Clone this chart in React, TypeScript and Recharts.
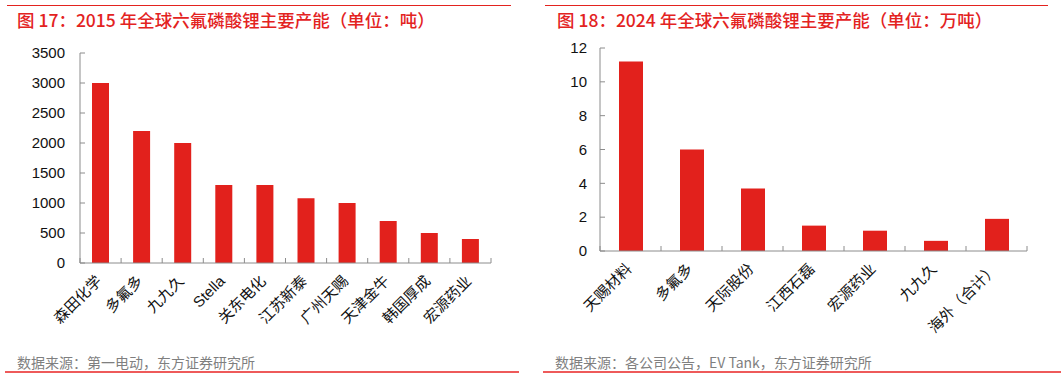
import React from 'react';
import { BarChart, Bar, XAxis, YAxis } from 'recharts';

const RED = '#e2211c';
const AXIS_GREY = '#8c8c8c';
const CJK = '"Liberation Sans", "Noto Sans CJK SC", sans-serif';

// 2015 global LiPF6 capacity (tons)
const names2015 = ['森田化学', '多氟多', '九九久', 'Stella', '关东电化', '江苏新泰', '广州天赐', '天津金牛', '韩国厚成', '宏源药业'];
const values2015 = [3000, 2200, 2000, 1300, 1300, 1080, 1000, 700, 500, 400];
const ticks2015 = [0, 500, 1000, 1500, 2000, 2500, 3000, 3500];

// 2024 global LiPF6 capacity (10k tons)
const names2024 = ['天赐材料', '多氟多', '天际股份', '江西石磊', '宏源药业', '九九久', '海外（合计）'];
const values2024 = [11.2, 6, 3.7, 1.5, 1.2, 0.6, 1.9];
const ticks2024 = [0, 2, 4, 6, 8, 10, 12];

const data2015 = names2015.map((name, i) => ({ name, value: values2015[i] }));
const data2024 = names2024.map((name, i) => ({ name, value: values2024[i] }));

// x tick: boundary tick marks pointing up + rotated label
const CategoryTick = (props: any) => {
  const { x, y, payload, index, band, count, fontSize } = props;
  const lx = x + 2;
  const ly = y + 19;
  return (
    <g>
      <line x1={x - band / 2} x2={x - band / 2} y1={y} y2={y - 5} stroke={AXIS_GREY} />
      {index === count - 1 && (
        <line x1={x + band / 2} x2={x + band / 2} y1={y} y2={y - 5} stroke={AXIS_GREY} />
      )}
      <text
        x={lx}
        y={ly}
        textAnchor="end"
        transform={`rotate(-45, ${lx}, ${ly})`}
        fontSize={fontSize}
        fontFamily={CJK}
        fill="#111"
      >
        {payload.value}
      </text>
    </g>
  );
};

const titleStyle: React.CSSProperties = {
  position: 'absolute',
  top: 11,
  fontFamily: '"Noto Sans CJK SC", sans-serif',
  fontSize: 17.5,
  fontWeight: 500,
  lineHeight: '18px',
  color: '#e3231f',
  whiteSpace: 'nowrap',
};

const sourceStyle: React.CSSProperties = {
  position: 'absolute',
  top: 354,
  fontFamily: '"Noto Sans CJK SC", sans-serif',
  fontSize: 14,
  lineHeight: '16px',
  color: '#7f7f7f',
  whiteSpace: 'nowrap',
};

const App = () => {
  const plotW2015 = 411;
  const plotW2024 = 427;
  return (
    <div style={{ position: 'absolute', left: 0, top: 0, width: 1061, height: 378, background: '#fff', overflow: 'hidden' }}>
      {/* header / footer rules */}
      <div style={{ position: 'absolute', left: 7, top: 5, width: 504, height: 1, background: '#e3231f' }} />
      <div style={{ position: 'absolute', left: 545, top: 5, width: 503, height: 1, background: '#e3231f' }} />
      <div style={{ position: 'absolute', left: 5, top: 371, width: 514, height: 2, background: '#ee5a5a' }} />
      <div style={{ position: 'absolute', left: 543, top: 371, width: 518, height: 2, background: '#ee5a5a' }} />

      <div style={{ ...titleStyle, left: 17 }}>图 17：2015 年全球六氟磷酸锂主要产能（单位：吨）</div>
      <div style={{ ...titleStyle, left: 557 }}>图 18：2024 年全球六氟磷酸锂主要产能（单位：万吨）</div>
      <div style={{ ...sourceStyle, left: 17 }}>数据来源：第一电动，东方证券研究所</div>
      <div style={{ ...sourceStyle, left: 555 }}>数据来源：各公司公告，EV Tank，东方证券研究所</div>

      {/* left chart */}
      <div style={{ position: 'absolute', left: 0, top: 0 }}>
        <BarChart width={530} height={378} data={data2015} margin={{ top: 53, right: 39, bottom: 55, left: 20 }}>
          <YAxis
            width={60}
            domain={[0, 3500]}
            ticks={ticks2015}
            interval={0}
            axisLine={{ stroke: AXIS_GREY }}
            tickLine={{ stroke: AXIS_GREY }}
            tickSize={-5}
            tickMargin={20}
            tick={{ fill: '#111', fontSize: 15, fontFamily: '"Liberation Sans", Arial, sans-serif' }}
          />
          <XAxis
            dataKey="name"
            height={60}
            interval={0}
            axisLine={{ stroke: AXIS_GREY }}
            tickLine={false}
            tickSize={0}
            tickMargin={0}
            tick={<CategoryTick band={plotW2015 / names2015.length} count={names2015.length} fontSize={15} />}
          />
          <Bar dataKey="value" fill={RED} barSize={17} isAnimationActive={false} />
        </BarChart>
      </div>

      {/* right chart */}
      <div style={{ position: 'absolute', left: 530, top: 0 }}>
        <BarChart width={531} height={378} data={data2024} margin={{ top: 48, right: 34, bottom: 67, left: 20 }}>
          <YAxis
            width={50}
            domain={[0, 12]}
            ticks={ticks2024}
            interval={0}
            axisLine={{ stroke: AXIS_GREY }}
            tickLine={{ stroke: AXIS_GREY }}
            tickSize={-5}
            tickMargin={18}
            tick={{ fill: '#111', fontSize: 15, fontFamily: '"Liberation Sans", Arial, sans-serif' }}
          />
          <XAxis
            dataKey="name"
            height={60}
            interval={0}
            axisLine={{ stroke: AXIS_GREY }}
            tickLine={false}
            tickSize={0}
            tickMargin={0}
            tick={<CategoryTick band={plotW2024 / names2024.length} count={names2024.length} fontSize={15} />}
          />
          <Bar dataKey="value" fill={RED} barSize={24} isAnimationActive={false} />
        </BarChart>
      </div>
    </div>
  );
};

export default App;
